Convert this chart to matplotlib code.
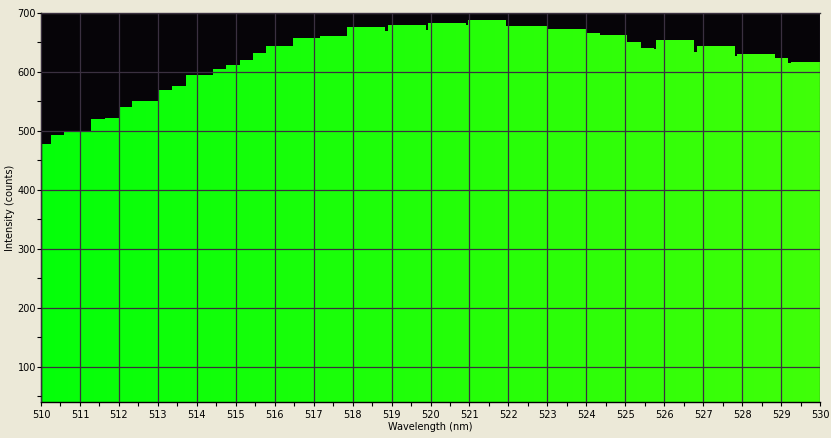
import numpy as np
import matplotlib
matplotlib.use("Agg")
import matplotlib.pyplot as plt
from matplotlib.ticker import MultipleLocator

# spectrum: bin edges (nm) and intensity per bin (counts)
wl_edges = [510.00, 510.26, 510.59, 511.28, 511.64, 512.00, 512.34, 513.03, 513.36,
            513.72, 514.42, 514.75, 515.11, 515.44, 515.78, 516.46, 517.16, 517.86,
            518.83, 518.91, 519.88, 519.94, 520.91, 520.96, 521.94, 523.02, 523.99,
            524.35, 525.04, 525.40, 525.74, 525.79, 526.76, 526.84, 527.82, 527.87,
            528.84, 529.18, 529.26, 530.00]
counts = [478, 493, 499, 520, 522, 541, 551, 569, 576, 595, 605, 612, 620, 632, 644,
          658, 661, 676, 669, 680, 671, 683, 680, 688, 678, 673, 666, 663, 651, 641,
          639, 654, 634, 644, 627, 630, 624, 615, 617]

x_range = (510, 530)
y_range = (40, 700)
x_label = "Wavelength (nm)"
y_label = "Intensity (counts)"

# colour of the fill at 510 nm and 530 nm
green_left = np.array([4, 255, 10]) / 255
green_right = np.array([64, 255, 8]) / 255

plt.rcParams["font.family"] = "DejaVu Sans"
plt.rcParams["font.size"] = 7

fig = plt.figure(figsize=(8.31, 4.38), dpi=100, facecolor="#ece9d8")
ax = fig.add_axes([41 / 831, 36 / 438, 779 / 831, 389 / 438])
ax.set_facecolor("#060408")

# horizontal colour ramp, clipped to the area under the spectrum
t = np.linspace(0, 1, 256)[:, None]
ramp = (1 - t) * green_left + t * green_right
ramp = ramp[None, :, :]
img = ax.imshow(ramp, extent=[x_range[0], x_range[1], y_range[0], y_range[1]],
                aspect="auto", interpolation="bilinear", zorder=1)
step = ax.stairs(counts, wl_edges, baseline=y_range[0], fill=True,
                 facecolor="none", edgecolor="none", linewidth=0, zorder=1)
img.set_clip_path(step)

ax.set_xlim(*x_range)
ax.set_ylim(*y_range)

ax.xaxis.set_major_locator(MultipleLocator(1))
ax.xaxis.set_minor_locator(MultipleLocator(0.5))
ax.yaxis.set_major_locator(MultipleLocator(100))
ax.yaxis.set_minor_locator(MultipleLocator(50))

ax.grid(True, which="major", color="#3a3040", linewidth=0.9, zorder=2)
ax.set_axisbelow(False)

ax.tick_params(which="both", direction="out", length=3, width=0.8, color="black",
               labelcolor="black", labelsize=7)
ax.tick_params(axis="x", which="major", pad=3)
ax.tick_params(axis="y", which="major", pad=0.5)

for side in ("left", "bottom"):
    ax.spines[side].set_color("black")
    ax.spines[side].set_linewidth(1.0)
ax.spines["top"].set_color("#3a3a3a")
ax.spines["top"].set_linewidth(1.0)
ax.spines["right"].set_visible(False)

ax.set_xlabel(x_label, fontsize=7, labelpad=1)
ax.set_ylabel(y_label, fontsize=7, labelpad=2)

fig.savefig("out.png", dpi=100, facecolor=fig.get_facecolor())
